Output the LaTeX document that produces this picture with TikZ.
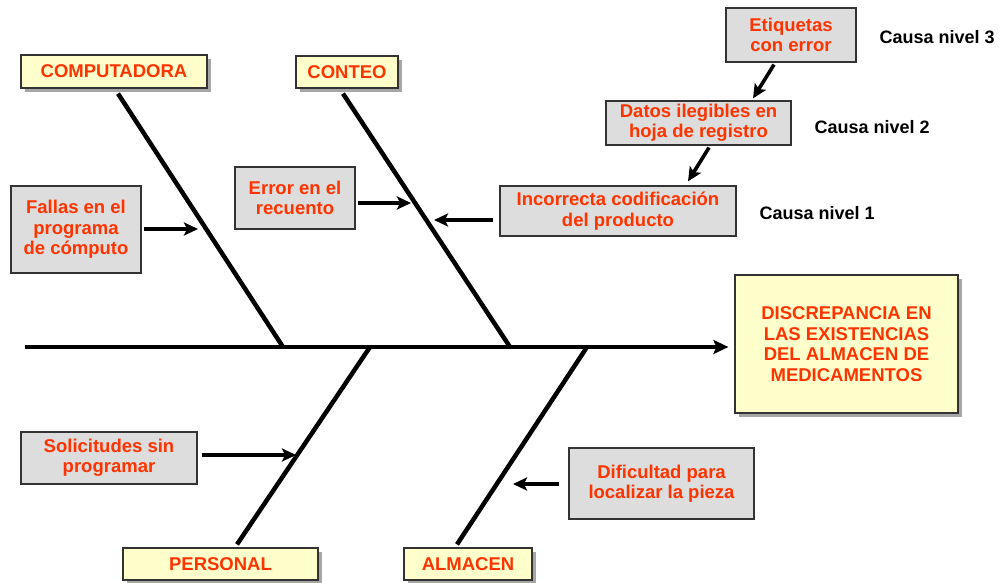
\documentclass[tikz,border=0pt]{standalone}
\usepackage{fontspec}
\setmainfont{Liberation Sans}
\usetikzlibrary{arrows.meta,shadows,calc}
\definecolor{txtred}{RGB}{255,51,0}
\definecolor{ylw}{RGB}{255,255,204}
\definecolor{gry}{RGB}{221,221,221}
\begin{document}
\begin{tikzpicture}[x=1pt,y=-1pt,
  font=\fontsize{18.5}{20.5}\selectfont\bfseries,
  base/.style={draw=black!80, line width=1.2pt, inner sep=0pt, align=center, text=txtred},
  catbox/.style={base, fill=ylw, drop shadow={shadow xshift=4pt, shadow yshift=-4pt, fill=black!35, opacity=1}},
  causebox/.style={base, fill=gry},
  levellabel/.style={anchor=west, text=black, font=\fontsize{18}{20}\selectfont\bfseries},
  bone/.style={line width=4.5pt},
  arr/.style={line width=3.6pt, -{Stealth[length=14pt,width=13pt,inset=3pt]}},
]
\useasboundingbox (0,0) rectangle (1004,583);

% category boxes
\node[catbox, minimum width=186pt, minimum height=33pt] (comp) at (114,71.5) {COMPUTADORA};
\node[catbox, minimum width=102pt, minimum height=32pt] (conteo) at (347,72) {CONTEO};
\node[catbox, minimum width=195pt, minimum height=32pt] (personal) at (220.5,564) {PERSONAL};
\node[catbox, minimum width=128pt, minimum height=32pt] (almacen) at (468,564) {ALMACEN};
\node[catbox, minimum width=223pt, minimum height=138pt] (head) at (846.5,344)
  {DISCREPANCIA EN\\LAS EXISTENCIAS\\DEL ALMACEN DE\\MEDICAMENTOS};

% cause boxes
\node[causebox, minimum width=130pt, minimum height=87pt] (fallas) at (76,229.5) {Fallas en el\\programa\\de cómputo};
\node[causebox, minimum width=120pt, minimum height=62pt] (error) at (295,198) {Error en el\\recuento};
\node[causebox, minimum width=236pt, minimum height=50pt] (incorr) at (618,211) {Incorrecta codificación\\del producto};
\node[causebox, minimum width=130pt, minimum height=54pt] (etiq) at (791,35) {Etiquetas\\con error};
\node[causebox, minimum width=185pt, minimum height=44pt] (datos) at (698.5,123) {Datos ilegibles en\\hoja de registro};
\node[causebox, minimum width=176pt, minimum height=52pt] (solic) at (109,458) {Solicitudes sin\\programar};
\node[causebox, minimum width=185pt, minimum height=71pt] (dific) at (661.5,483.5) {Dificultad para\\localizar la pieza};

% level labels
\node[levellabel] (n3) at (876,37) {Causa nivel 3};
\node[levellabel] (n2) at (811,127) {Causa nivel 2};
\node[levellabel] (n1) at (756,213) {Causa nivel 1};

% spine
\coordinate (tail) at (25,347);
\coordinate (s1) at (283,347);
\coordinate (s2) at (510,347);
\coordinate (s3) at (370,347);
\coordinate (s4) at (587,347);
\draw[line width=4.2pt, -{Stealth[length=15pt,width=14pt,inset=3pt]}] (tail) -- ($(tail -| head.west)+(-6,0)$);

% bones
\draw[bone] ($(comp.south)+(4,5)$) -- (s1);
\draw[bone] ($(conteo.south)+(-4,5)$) -- (s2);
\draw[bone] ($(personal.north)+(16.5,-3)$) -- (s3);
\draw[bone] ($(almacen.north)+(-11,-3)$) -- (s4);

% cause arrows
\coordinate (t1) at (198,229);
\coordinate (t2) at (411,203);
\coordinate (t3) at (434,220);
\coordinate (t4) at (296,455);
\coordinate (t5) at (513,484);
\draw[arr] ($(fallas.east|-t1)+(2,0)$) -- (t1);
\draw[arr] ($(error.east|-t2)+(2,0)$) -- (t2);
\draw[arr] ($(incorr.west|-t3)+(-6,0)$) -- (t3);
\draw[arr] ($(solic.east|-t4)+(4,0)$) -- (t4);
\draw[arr] ($(dific.west|-t5)+(-9,0)$) -- (t5);

% level arrows
\draw[arr] ($(etiq.south)+(-17,2)$) -- ($(datos.north)+(54.5,-2)$);
\draw[arr] ($(datos.south)+(10.5,2)$) -- ($(incorr.north)+(70,-4)$);
\end{tikzpicture}
\end{document}
